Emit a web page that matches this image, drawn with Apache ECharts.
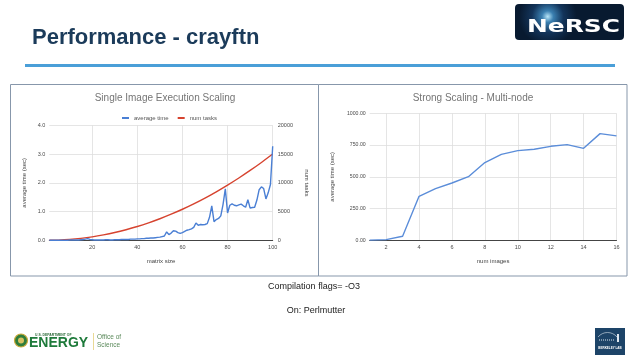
<!DOCTYPE html>
<html><head><meta charset="utf-8">
<script src="https://cdn.jsdelivr.net/npm/echarts@6/dist/echarts.min.js"></script>
<style>html,body{margin:0;padding:0;background:#fff}#c{width:638px;height:359px}</style>
</head><body><div id="c"></div>
<script>
// ---- Data ----
const matrixSizeTicks = [20, 40, 60, 80, 100];
// average time (sec) for matrix sizes 1..100
const avgTime = [
  0.00,0.00,0.00,0.00,0.00,0.00,0.00,0.00,0.00,0.01,
  0.01,0.01,0.01,0.01,0.02,0.03,0.04,0.06,0.03,0.02,
  0.01,0.01,0.01,0.01,0.01,0.02,0.02,0.01,0.01,0.02,
  0.02,0.02,0.03,0.03,0.03,0.03,0.04,0.04,0.04,0.05,
  0.05,0.06,0.06,0.07,0.07,0.08,0.08,0.09,0.10,0.11,
  0.13,0.15,0.29,0.20,0.25,0.33,0.32,0.27,0.24,0.27,
  0.31,0.35,0.37,0.40,0.45,0.60,0.52,0.55,0.54,0.55,
  0.58,0.80,1.20,0.65,0.72,0.76,0.85,1.25,1.79,0.95,
  1.22,1.27,1.22,1.20,1.23,1.26,1.20,1.15,1.41,1.12,
  1.14,1.15,1.40,1.76,1.86,1.80,1.44,1.65,1.94,3.27
];
const taskSizes = [1,5,10,15,20,25,30,35,40,45,50,55,60,65,70,75,80,85,90,95,100];
const numTasks  = [2,38,150,340,600,940,1350,1840,2400,3040,3750,4540,5400,6340,7350,8440,9600,10840,12150,13540,15000];

const numImages = [1,2,3,4,5,6,7,8,9,10,11,12,13,14,15,16];
const strongTime = [1,5,32,346,407,451,501,612,677,706,717,740,753,724,840,822];
const imageTicks = [2,4,6,8,10,12,14,16];

// ---- Build ----
const avgPairs = avgTime.map((v, i) => [i + 1, v]);
const taskPairs = taskSizes.map((s, i) => [s, numTasks[i]]);
const strongPairs = numImages.map((n, i) => [n, strongTime[i]]);

const FONT = 'Liberation Sans';
const chart = echarts.init(document.getElementById('c'), null, {renderer: 'canvas'});
const gridColor = '#dedede';
const labelColor = '#4a4a4a';

chart.setOption({
  animation: false,
  textStyle: {fontFamily: FONT},
  legend: {
    left: 117, top: 110, itemWidth: 7, itemHeight: 2, itemGap: 9, icon: 'rect',
    textStyle: {fontSize: 6, color: '#555', fontFamily: FONT},
    data: ['average time', 'num tasks']
  },
  grid: [
    {left: 49.3, top: 125.3, width: 223.4, height: 115, containLabel: false},
    {left: 369.7, top: 113.3, width: 246.8, height: 127, containLabel: false}
  ],
  xAxis: [
    {
      type: 'value', gridIndex: 0, min: 1, max: 100,
      name: 'matrix size', nameLocation: 'middle', nameGap: 18,
      nameTextStyle: {fontSize: 6, color: '#444'},
      axisLine: {show: true, lineStyle: {color: '#444', width: 1}},
      axisTick: {show: false, customValues: matrixSizeTicks},
      axisLabel: {customValues: matrixSizeTicks, fontSize: 5.5, color: labelColor, margin: 4},
      splitLine: {show: true, lineStyle: {color: gridColor, width: 0.8}}
    },
    {
      type: 'value', gridIndex: 1, min: 1, max: 16,
      name: 'num images', nameLocation: 'middle', nameGap: 18,
      nameTextStyle: {fontSize: 6, color: '#444'},
      axisLine: {show: true, lineStyle: {color: '#444', width: 1}},
      axisTick: {show: false, customValues: imageTicks},
      axisLabel: {customValues: imageTicks, fontSize: 5.5, color: labelColor, margin: 4},
      splitLine: {show: true, lineStyle: {color: gridColor, width: 0.8}}
    }
  ],
  yAxis: [
    {
      type: 'value', gridIndex: 0, min: 0, max: 4, interval: 1, position: 'left',
      name: 'average time (sec)', nameLocation: 'middle', nameGap: 22,
      nameTextStyle: {fontSize: 6, color: '#444'},
      axisLine: {show: false}, axisTick: {show: false},
      axisLabel: {fontSize: 5.5, color: labelColor, margin: 4, formatter: v => v.toFixed(1)},
      splitLine: {show: true, lineStyle: {color: gridColor, width: 0.8}}
    },
    {
      type: 'value', gridIndex: 0, min: 0, max: 20000, interval: 5000, position: 'right',
      name: 'num tasks', nameLocation: 'middle', nameGap: 31, nameRotate: -90,
      nameTextStyle: {fontSize: 6, color: '#444'},
      axisLine: {show: false}, axisTick: {show: false},
      axisLabel: {fontSize: 5.5, color: labelColor, margin: 5, formatter: v => String(v)},
      splitLine: {show: false}
    },
    {
      type: 'value', gridIndex: 1, min: 0, max: 1000, interval: 250, position: 'left',
      name: 'average time (sec)', nameLocation: 'middle', nameGap: 34,
      nameTextStyle: {fontSize: 6, color: '#444'},
      axisLine: {show: false}, axisTick: {show: false},
      axisLabel: {fontSize: 5.2, color: labelColor, margin: 4, formatter: v => v.toFixed(2)},
      splitLine: {show: true, lineStyle: {color: gridColor, width: 0.8}}
    }
  ],
  series: [
    {
      name: 'average time', type: 'line', xAxisIndex: 0, yAxisIndex: 0,
      data: avgPairs, showSymbol: false, symbol: 'none',
      lineStyle: {color: '#4a7fd4', width: 1.4}, itemStyle: {color: '#4a7fd4'}, z: 3
    },
    {
      name: 'num tasks', type: 'line', xAxisIndex: 0, yAxisIndex: 1,
      data: taskPairs, showSymbol: false, symbol: 'none', smooth: 0.3,
      lineStyle: {color: '#d6432f', width: 1.4}, itemStyle: {color: '#d6432f'}, z: 2
    },
    {
      name: 'strong', type: 'line', xAxisIndex: 1, yAxisIndex: 2,
      data: strongPairs, showSymbol: false, symbol: 'none',
      lineStyle: {color: '#5b8dd9', width: 1.4}, itemStyle: {color: '#5b8dd9'}
    }
  ],
  graphic: [
    // slide title
    {type: 'text', left: 32, top: 27, style: {text: 'Performance - crayftn', font: 'bold 22px "Liberation Sans"', fill: '#1b3b5a'}},
    {type: 'line', shape: {x1: 25, y1: 65.5, x2: 615, y2: 65.5}, style: {stroke: '#4a9fd8', lineWidth: 3}},
    // NERSC logo
    {type: 'rect', z: 5, shape: {x: 515, y: 4, width: 109, height: 36, r: 4},
      style: {fill: new echarts.graphic.RadialGradient(0.3, 0.35, 0.8, [
        {offset: 0, color: '#b8e6f8'}, {offset: 0.2, color: '#3a7fb0'}, {offset: 0.55, color: '#13345a'}, {offset: 1, color: '#081a30'}])}},
    {type: 'group', z: 10, x: 527, y: 18, scaleX: 1.38, scaleY: 1,
      children: [
        {type: 'text', z: 10, x: 0, y: 0,
          style: {text: 'NeRSC', font: 'bold 18px "DejaVu Sans"', fill: '#ffffff', verticalAlign: 'top'}}
      ]},
    // chart frames
    {type: 'rect', shape: {x: 10.5, y: 84.5, width: 616.5, height: 191.5}, style: {fill: 'none', stroke: '#8797ab', lineWidth: 1}},
    {type: 'line', shape: {x1: 318.5, y1: 84.5, x2: 318.5, y2: 276}, style: {stroke: '#8797ab', lineWidth: 1}},
    // chart titles
    {type: 'text', x: 165, y: 98.3, style: {text: 'Single Image Execution Scaling', font: '10px "Liberation Sans"', fill: '#757575', align: 'center', verticalAlign: 'middle'}},
    {type: 'text', x: 473, y: 98.3, style: {text: 'Strong Scaling - Multi-node', font: '10px "Liberation Sans"', fill: '#757575', align: 'center', verticalAlign: 'middle'}},
    // notes
    {type: 'text', x: 314, y: 287, style: {text: 'Compilation flags= -O3', font: '9px "Liberation Sans"', fill: '#222', align: 'center', verticalAlign: 'middle'}},
    {type: 'text', x: 316, y: 311, style: {text: 'On: Perlmutter', font: '9px "Liberation Sans"', fill: '#222', align: 'center', verticalAlign: 'middle'}},
    // DOE logo
    {type: 'circle', shape: {cx: 21, cy: 340.5, r: 6.5}, style: {fill: '#2f7d3a', stroke: '#c9a93a', lineWidth: 1.2}},
    {type: 'circle', shape: {cx: 21, cy: 340.5, r: 3}, style: {fill: '#d8c060'}},
    {type: 'text', x: 35, y: 335.3, style: {text: 'U.S. DEPARTMENT OF', font: 'bold 3.4px "Liberation Sans"', fill: '#2e6b3a', verticalAlign: 'middle'}},
    {type: 'text', x: 29, y: 343.2, style: {text: 'ENERGY', font: 'bold 14px "Liberation Sans"', fill: '#1e7a3a', verticalAlign: 'middle'}},
    {type: 'line', shape: {x1: 93.5, y1: 333, x2: 93.5, y2: 350}, style: {stroke: '#e3cf7a', lineWidth: 0.8}},
    {type: 'text', x: 97, y: 337.5, style: {text: 'Office of', font: '6.5px "Liberation Sans"', fill: '#5b8a5b', verticalAlign: 'middle'}},
    {type: 'text', x: 97, y: 345.5, style: {text: 'Science', font: '6.5px "Liberation Sans"', fill: '#5b8a5b', verticalAlign: 'middle'}},
    // Berkeley Lab logo
    {type: 'rect', shape: {x: 595, y: 328, width: 30, height: 27}, style: {fill: '#1d4468'}},
    {type: 'bezierCurve', shape: {x1: 598, y1: 337, x2: 617, y2: 337, cpx1: 603, cpy1: 331, cpx2: 612, cpy2: 331}, style: {stroke: '#dfe8f0', lineWidth: 0.6, fill: 'none'}},
    {type: 'line', shape: {x1: 599, y1: 340, x2: 615, y2: 340}, style: {stroke: '#dfe8f0', lineWidth: 1.2, lineDash: [1, 1]}},
    {type: 'rect', shape: {x: 617, y: 334, width: 2, height: 8}, style: {fill: '#dfe8f0'}},
    {type: 'text', x: 610, y: 348, style: {text: 'BERKELEY LAB', font: 'bold 3px "Liberation Sans"', fill: '#ffffff', align: 'center', verticalAlign: 'middle'}}
  ]
});
</script>
</body></html>
